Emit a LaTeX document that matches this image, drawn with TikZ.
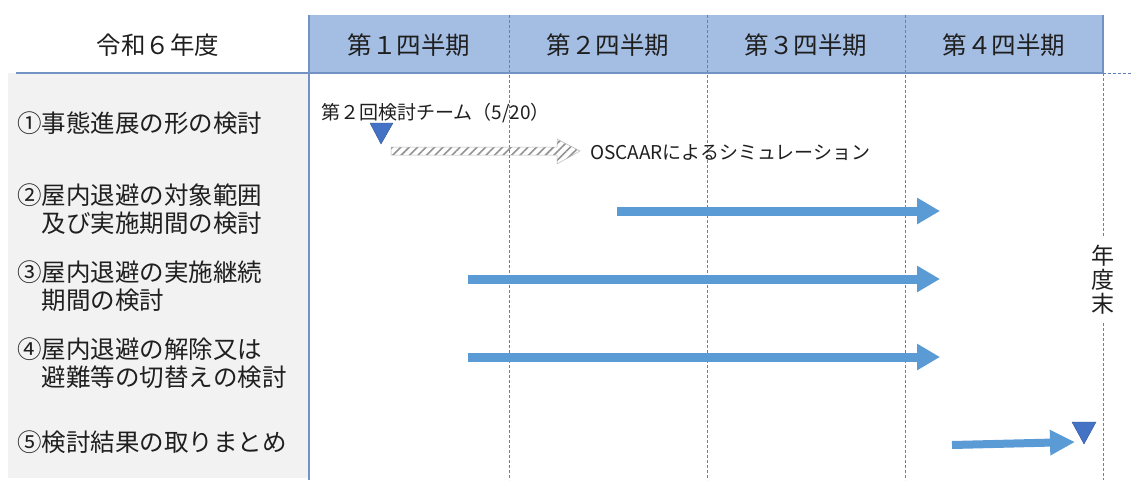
\documentclass[tikz,border=0pt]{standalone}
\usepackage{fontspec}
\setmainfont{Noto Sans CJK JP}
\usetikzlibrary{arrows.meta,patterns.meta}
\definecolor{hdr}{HTML}{A4BDE2}
\definecolor{gridc}{HTML}{5F80BA}
\definecolor{framec}{HTML}{7393C4}
\definecolor{panel}{HTML}{F2F2F2}
\definecolor{barc}{HTML}{5B9BD5}
\definecolor{markc}{HTML}{4472C4}
\definecolor{markd}{HTML}{2F5597}
\definecolor{txt}{HTML}{1F1F1F}
\tikzset{
  big/.style={font=\fontsize{24.5}{28.5}\selectfont, text=txt, inner sep=0pt},
  lbl/.style={big, anchor=west, align=left},
  small/.style={font=\fontsize{19}{22}\selectfont, text=txt, inner sep=0pt, anchor=west},
  gridline/.style={draw=gridc, line width=0.8pt, dash pattern=on 3pt off 2pt},
  frameline/.style={draw=framec, line width=1.2pt},
  bar/.style={draw=barc, line width=9pt, -{Triangle[length=23pt,width=25pt]}},
  marker/.style={fill=markc, draw=markd, line width=0.4pt},
}
\begin{document}
\begin{tikzpicture}[x=1pt,y=-1pt]
\useasboundingbox (0,0) rectangle (1132,480);
\fill[white] (0,0) rectangle (1132,480);
% panels
\fill[panel] (8,73) rectangle (308,478);
\fill[hdr] (309,15) rectangle (1103,73);
% grid lines
\foreach \gx in {509,707,905} \draw[gridline] (\gx,15) -- (\gx,480);
\draw[gridline] (1103,73) -- (1103,480);
\draw[gridline] (1103,73) -- (1132,73);
% frame lines
\draw[frameline] (16,73) -- (1103,73);
\draw[frameline] (309,15) -- (309,480);
\draw[frameline] (1103,15) -- (1103,73);
% header texts
\node[big] (h0) at (158,45) {令和６年度};
\node[big] (h1) at (409,45) {第１四半期};
\node[big] (h2) at (608,45) {第２四半期};
\node[big] (h3) at (806,45) {第３四半期};
\node[big] (h4) at (1004,45) {第４四半期};
% left labels
\node[lbl] (l1) at (17,123) {①事態進展の形の検討};
\node[lbl] (l2) at (17,209) {②屋内退避の対象範囲\\\hspace*{1em}及び実施期間の検討};
\node[lbl] (l3) at (17,286) {③屋内退避の実施継続\\\hspace*{1em}期間の検討};
\node[lbl] (l4) at (17,363) {④屋内退避の解除又は\\\hspace*{1em}避難等の切替えの検討};
\node[lbl] (l5) at (17,442) {⑤検討結果の取りまとめ};
% year end
\node[font=\fontsize{23}{24}\selectfont, text=txt, fill=white, align=center, inner xsep=2pt, inner ysep=8pt] (ye) at (1103,280) {年\\度\\末};
% row 1
\node[small] (m1t) at (321,113) {第２回検討チーム（5/20）};
\draw[marker] (370,123) -- (393,123) -- (381,144) -- cycle;
\path[pattern={Lines[angle=45,distance=6pt,line width=1.6pt]}, pattern color=gray!85]
  (391,147) -- (557,147) -- (557,139) -- (580,151) -- (557,164) -- (557,155) -- (391,155) -- cycle;
\draw[gray!55, line width=0.5pt]
  (391,147) -- (557,147) -- (557,139) -- (580,151) -- (557,164) -- (557,155) -- (391,155) -- cycle;
\node[small] (sim) at (590,153) {OSCAARによるシミュレーション};
% bars
\coordinate (b2s) at (617,211); \coordinate (b2e) at (940,211);
\coordinate (b3s) at (468,279); \coordinate (b3e) at (940,279);
\coordinate (b4s) at (468,357); \coordinate (b4e) at (940,357);
\coordinate (b5s) at (952,445); \coordinate (b5e) at (1075,442);
\draw[bar] (b2s) -- (b2e);
\draw[bar] (b3s) -- (b3e);
\draw[bar] (b4s) -- (b4e);
\draw[draw=barc, line width=8pt, -{Triangle[length=25pt,width=24pt]}] (b5s) -- (b5e);
\draw[marker] (1072,422) -- (1096,422) -- (1084,444) -- cycle;
\end{tikzpicture}
\end{document}
